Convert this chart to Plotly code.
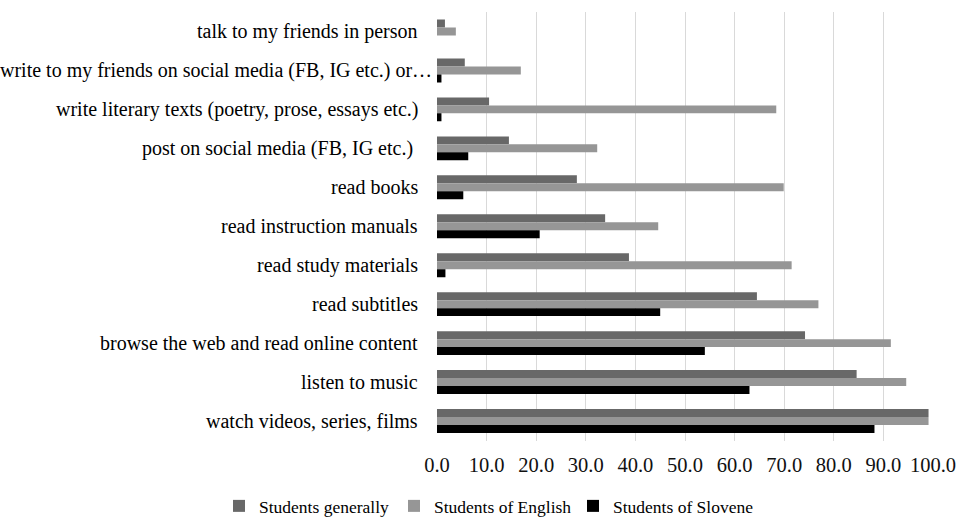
import plotly.graph_objects as go

categories = [
    "talk to my friends in person",
    "write to my friends on social media (FB, IG etc.) or…",
    "write literary texts (poetry, prose, essays etc.)",
    "post on social media (FB, IG etc.)\u00a0",
    "read books",
    "read instruction manuals",
    "read study materials",
    "read subtitles",
    "browse the web and read online content",
    "listen to music",
    "watch videos, series, films",
]
students_generally = [1.6, 5.6, 10.5, 14.5, 28.2, 33.9, 38.7, 64.5, 74.2, 84.6, 99.1]
students_english = [3.8, 16.9, 68.4, 32.3, 69.9, 44.6, 71.5, 76.9, 91.5, 94.6, 99.1]
students_slovene = [0.0, 0.9, 0.9, 6.3, 5.3, 20.7, 1.7, 45.0, 54.0, 63.0, 88.2]
series_names = ["Students generally", "Students of English", "Students of Slovene"]
x_ticks = [0, 10, 20, 30, 40, 50, 60, 70, 80, 90, 100]
x_tick_labels = ["0.0", "10.0", "20.0", "30.0", "40.0", "50.0", "60.0", "70.0", "80.0", "90.0", "100.0"]

colors = ["#686868", "#969696", "#000000"]
FONT = "Liberation Serif, Times New Roman, serif"
legend_ids = ["legend", "legend2", "legend3"]
legend_left_px = [219, 394, 573]

fig = go.Figure()
for name, vals, col, lg in zip(series_names, [students_generally, students_english, students_slovene], colors, legend_ids):
    fig.add_trace(go.Bar(
        y=categories, x=vals, name=name, orientation="h",
        marker=dict(color=col, line=dict(width=0)), legend=lg, showlegend=True,
    ))

W, H = 968, 517
L, R, T, B = 437, 24, 12, 75
pw = W - L - R
annotations = []
for c in categories:
    right = 433.5 if c.startswith("write to my friends") else 419.5
    annotations.append(dict(
        text=c, xref="paper", yref="y", x=(right - L) / pw, y=c,
        xanchor="right", yanchor="middle", showarrow=False,
        font=dict(family=FONT, size=20, color="#000000"),
    ))

layout_legends = {}
for lg, lx in zip(legend_ids, legend_left_px):
    layout_legends[lg] = dict(
        orientation="h", xref="container", yref="container",
        x=lx / W, xanchor="left", y=(H - 506) / H, yanchor="middle",
        font=dict(family=FONT, size=17.5, color="#000000"),
        itemwidth=30, bgcolor="rgba(0,0,0,0)",
    )

fig.update_layout(
    width=W, height=H,
    margin=dict(l=L, r=R, t=T, b=B),
    paper_bgcolor="white", plot_bgcolor="white",
    showlegend=True,
    barmode="group", bargap=0.386, bargroupgap=0,
    font=dict(family=FONT, size=20, color="#000000"),
    annotations=annotations,
    xaxis=dict(
        range=[0, 100], tickvals=x_ticks, ticktext=x_tick_labels,
        showgrid=True, gridcolor="#d9d9d9", gridwidth=1.3,
        zeroline=False, showline=False, ticks="",
        ticklabelstandoff=10,
        tickfont=dict(family=FONT, size=20.5, color="#111111"),
        fixedrange=True,
    ),
    yaxis=dict(
        autorange="reversed", showticklabels=False, showgrid=False,
        zeroline=False, showline=False, ticks="",
        categoryorder="array", categoryarray=categories,
    ),
    **layout_legends,
)

fig.write_html("out.html")
